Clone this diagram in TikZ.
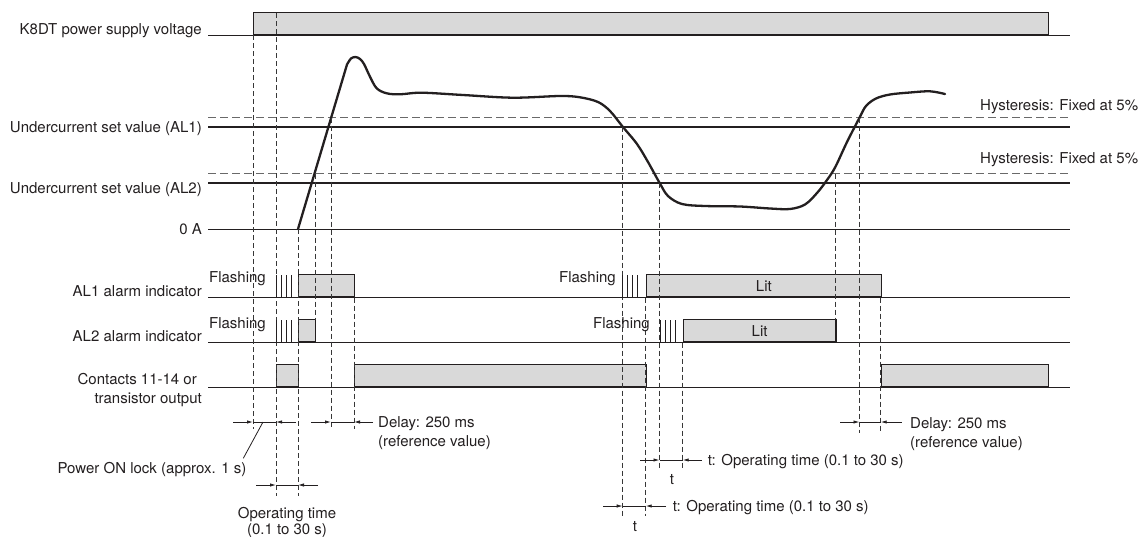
\documentclass[tikz,border=0pt]{standalone}
\usepackage{fontspec}
\setmainfont{TeX Gyre Heros}
\usetikzlibrary{arrows.meta}

\definecolor{ink}{RGB}{35,31,32}
\definecolor{boxgray}{RGB}{217,217,217}
\definecolor{hystgray}{RGB}{105,105,105}
\definecolor{guidegray}{RGB}{55,55,55}

\tikzset{
  lbl/.style={inner sep=0pt, text=ink, font=\fontsize{15}{18}\selectfont},
  pulse/.style={draw=ink, fill=boxgray, line width=1.3pt, inner sep=0pt, anchor=south west, text=ink, font=\fontsize{15}{18}\selectfont},
  track/.style={draw=ink, line width=0.9pt},
  setline/.style={draw=ink, line width=2.1pt},
  hyst/.style={draw=hystgray, line width=1.4pt, dash pattern=on 7.5pt off 4.5pt},
  guide/.style={draw=guidegray, line width=0.8pt, dash pattern=on 5pt off 3pt},
  blink/.style={draw=ink, line width=0.9pt},
  signal/.style={draw=ink, line width=2.3pt, line join=round, line cap=round},
  dimtip/.style={draw=ink, line width=0.8pt, -{Latex[length=6pt,width=3.4pt]}},
  dimline/.style={draw=ink, line width=0.8pt},
}

\begin{document}
\begin{tikzpicture}[x=1pt,y=-1pt]
\useasboundingbox (0,0) rectangle (1138,536);

	% output boxes
	\node[pulse, minimum width=795pt, minimum height=22pt] (pwr) at (253,35) {};
	\node[pulse, minimum width=56pt, minimum height=22.7pt] (al1on) at (298,297.7) {};
	\node[pulse, minimum width=235pt, minimum height=22.7pt] (al1lit) at (645.7,297.7) {Lit};
	\node[pulse, minimum width=17pt, minimum height=22.7pt] (al2on) at (298,342.7) {};
	\node[pulse, minimum width=152.6pt, minimum height=22.7pt] (al2lit) at (682.7,342.7) {Lit};
	\node[pulse, minimum width=22pt, minimum height=22.7pt] (outa) at (276,387.7) {};
	\node[pulse, minimum width=291.7pt, minimum height=22.7pt] (outb) at (354,387.7) {};
	\node[pulse, minimum width=167.3pt, minimum height=22.7pt] (outc) at (880.7,387.7) {};
	
	% base lines
	\draw[track] (208,35) -- (1070,35);
	\draw[track] (208,229) -- (1070,229);
	\draw[track] (208,297.7) -- (1070,297.7);
	\draw[track] (208,342.7) -- (1070,342.7);
	\draw[track] (208,387.7) -- (1070,387.7);
	
	% set values and hysteresis
	\draw[hyst] (208,117.7) -- (1070,117.7);
	\draw[setline] (208,126.7) -- (1070,126.7);
	\draw[hyst] (208,173.7) -- (1070,173.7);
	\draw[setline] (208,182.7) -- (1070,182.7);
	
	% load current
	\draw[signal] (298,229) -- (347,64.5) -- plot[smooth, tension=0.55] coordinates {(347,64.5) (351,58.5) (355.5,57) (360,59) (364,64) (370,76.7) (376.7,88.3) (386.7,93.3) (400,94.3) (421.7,92.7) (463,95) (513,97.7) (560,96) (580,97.3) (598,102) (610,111) (622.7,126.7) (637,144) (648,162) (659.5,182.7) (668,196) (682,204) (705,206) (740,206.5) (770,208.5) (790,209) (805,204.5) (817,193) (827,180) (835.3,167) (847,142) (859.5,117.7) (866,106) (876,98.5) (890,94.5) (910,92.5) (930,91.3) (945,94)};
	
	% timing guides
	\draw[guide] (253,35) -- (253,429);
	\draw[guide] (276,13) -- (276,496);
	\draw[guide] (298,229) -- (298,496);
	\draw[guide] (315,173.7) -- (315,320);
	\draw[guide] (331,117.7) -- (331,429);
	\draw[guide] (354,297.7) -- (354,429);
	\draw[guide] (622.7,126.7) -- (622.7,516);
	\draw[guide] (645.7,297.7) -- (645.7,516);
	\draw[guide] (659.5,182.7) -- (659.5,468);
	\draw[guide] (682.7,342.7) -- (682.7,468);
	\draw[guide] (835.3,173.7) -- (835.3,320);
	\draw[guide] (859.5,117.7) -- (859.5,433);
	\draw[guide] (880.7,297.7) -- (880.7,433);
	
	% flashing
	\foreach \x in {276,281,286,291} {
		\draw[blink] (\x,275) -- (\x,297.7);
		\draw[blink] (\x,320) -- (\x,342.7);
	}
	\foreach \x in {622.7,627.7,632.7,637.7} \draw[blink] (\x,275) -- (\x,297.7);
	\foreach \x in {660,665,670,675} \draw[blink] (\x,320) -- (\x,342.7);
	
	% dimensions
	\foreach \y/\a/\b/\c/\d in {422/233/253/276/296, 422/311/331/354/373, 485/256/276/298/318, 460/640/659.5/682.7/701.7, 506/603/622.7/645.7/666, 422/840/859.5/880.7/901.7} {
		\draw[dimtip] (\a,\y) -- (\b,\y);
		\draw[dimtip] (\d,\y) -- (\c,\y);
		\draw[dimline] (\b,\y) -- (\c,\y);
	}
	\draw[dimline] (263,422) -- (243.3,458.3);
	
	% labels
	\node[lbl, anchor=base east] (pwrlbl) at (202,34) {K8DT power supply voltage};
	\node[lbl, anchor=base east] (al1set) at (202,132.7) {Undercurrent set value (AL1)};
	\node[lbl, anchor=base east] (al2set) at (202,193) {Undercurrent set value (AL2)};
	\node[lbl, anchor=base east] (zeroa) at (202,234.3) {0 A};
	\node[lbl, anchor=base east] (al1ind) at (202,296.7) {AL1 alarm indicator};
	\node[lbl, anchor=base east] (al2ind) at (202,341) {AL2 alarm indicator};
	\node[lbl, anchor=north east, align=right, font=\fontsize{15}{18.4}\selectfont] (outlbl) at (202,373.2) {Contacts 11-14 or\hspace*{5pt}\\transistor output};
	
	\node[lbl, anchor=base west] (hyst1) at (980,110.4) {Hysteresis: Fixed at 5\%};
	\node[lbl, anchor=base west] (hyst2) at (980,163.6) {Hysteresis: Fixed at 5\%};
	
	\node[lbl, anchor=base east] (flash1a) at (266,282.3) {Flashing};
	\node[lbl, anchor=base east] (flash2a) at (266,328.3) {Flashing};
	\node[lbl, anchor=base east] (flash1b) at (616,282.3) {Flashing};
	\node[lbl, anchor=base east] (flash2b) at (650,328.3) {Flashing};
	
	\node[lbl, anchor=base east] (locklbl) at (246.5,473.3) {Power ON lock (approx. 1 s)};
	\node[lbl, anchor=north west, align=left, font=\fontsize{15}{19}\selectfont] (delay1) at (378,416.5) {Delay: 250 ms\\(reference value)};
	\node[lbl, anchor=north west, align=left, font=\fontsize{15}{19}\selectfont] (delay2) at (910,417.5) {Delay: 250 ms\\(reference value)};
	\node[lbl, anchor=north, align=center, font=\fontsize{15}{16.5}\selectfont] (optime1) at (287,506.6) {Operating time\\(0.1 to 30 s)};
	\node[lbl, anchor=base west] (optime2) at (707.7,465) {t: Operating time (0.1 to 30 s)};
	\node[lbl, anchor=base] (t2) at (672,484) {t};
	\node[lbl, anchor=base west] (optime3) at (672.7,511) {t: Operating time (0.1 to 30 s)};
	\node[lbl, anchor=base] (t3) at (635,531) {t};
\end{tikzpicture}
\end{document}
